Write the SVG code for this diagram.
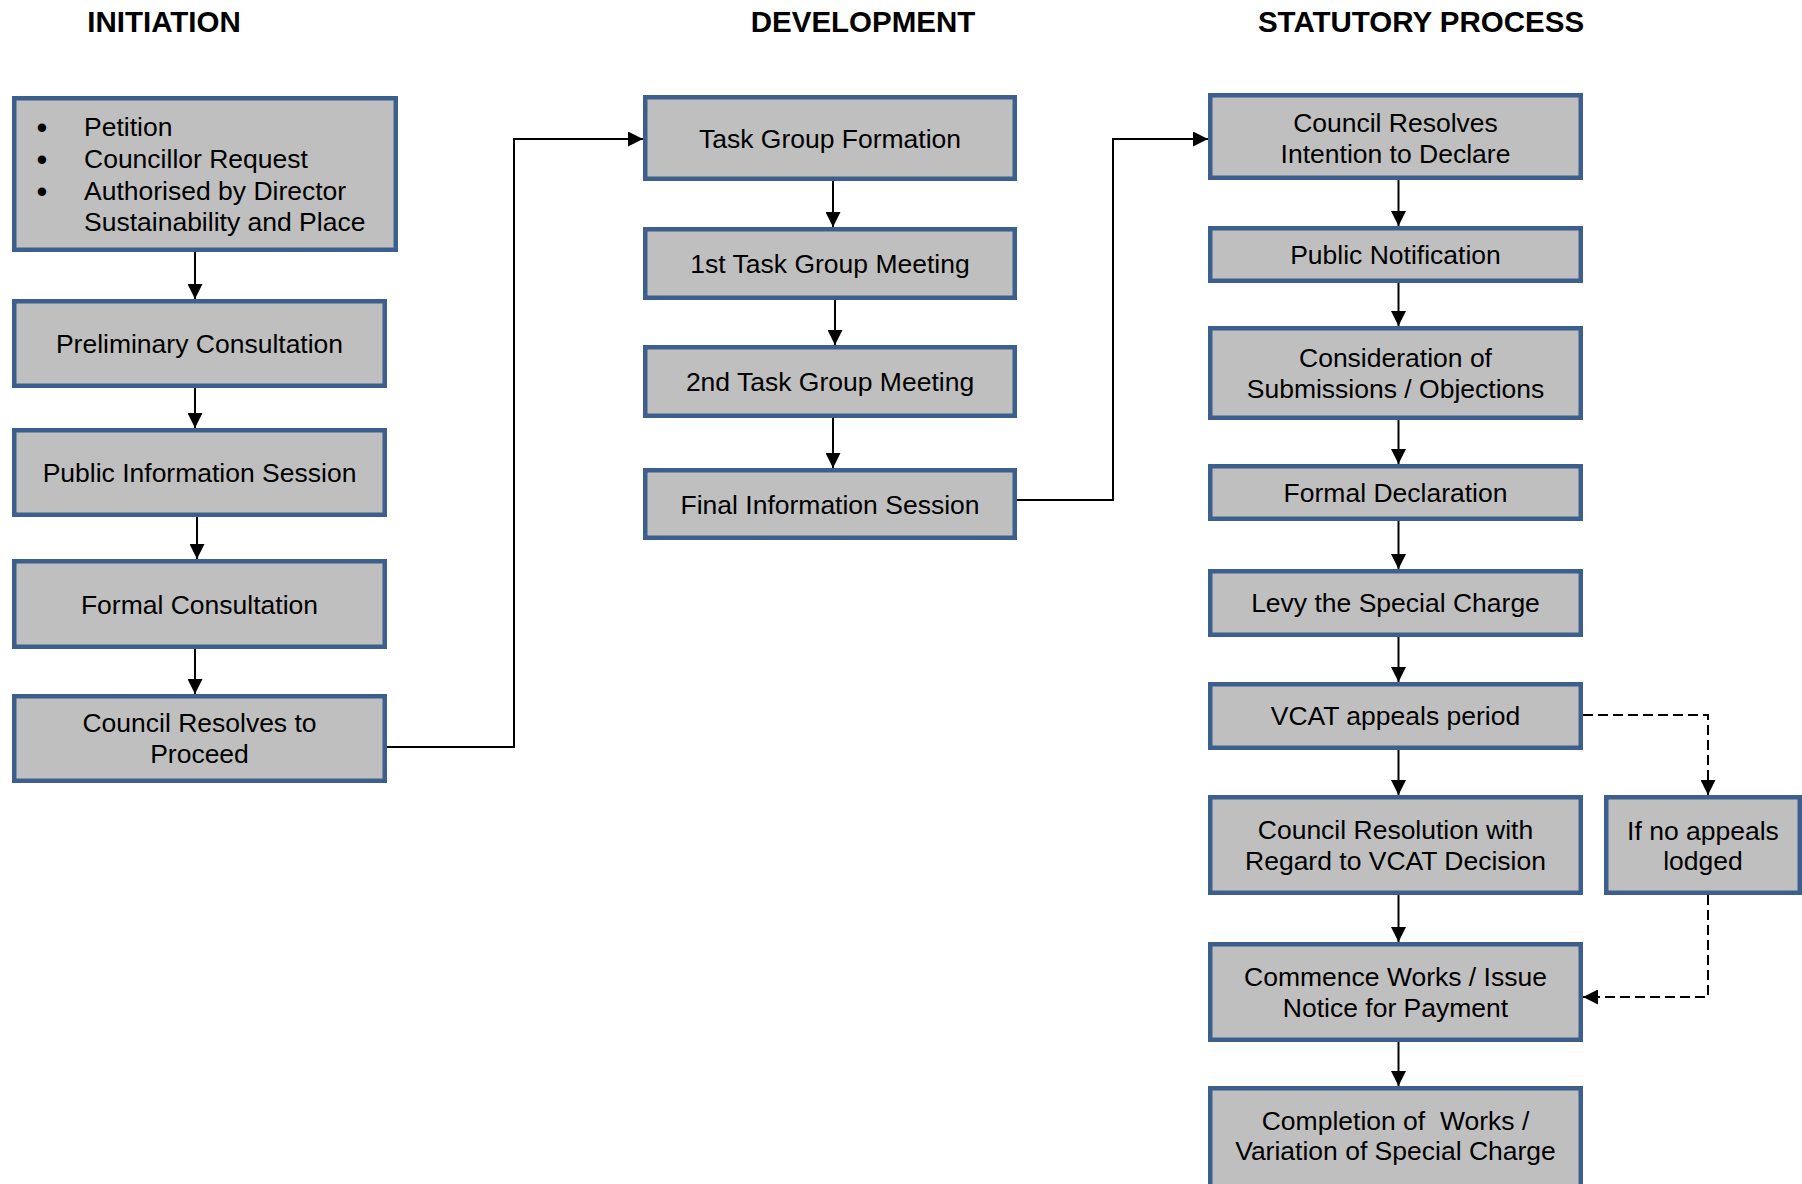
<svg xmlns="http://www.w3.org/2000/svg" width="1802" height="1184" viewBox="0 0 1802 1184">
<style>
.box{fill:#BFBFBF;stroke:#3C5F8D;stroke-width:4.5}
.t{font-family:"Liberation Sans",Arial,sans-serif;font-size:26.5px;fill:#000;text-anchor:middle}
.tl{font-family:"Liberation Sans",Arial,sans-serif;font-size:26.5px;fill:#000}
.b{font-size:31px}
.h{font-family:"Liberation Sans",Arial,sans-serif;font-size:29.5px;font-weight:bold;fill:#000;text-anchor:middle}
.c{fill:none;stroke:#000;stroke-width:2;marker-end:url(#arr)}
.d{fill:none;stroke:#000;stroke-width:2;stroke-dasharray:10 5;marker-end:url(#arr)}
</style>
<defs>
<marker id="arr" markerUnits="userSpaceOnUse" markerWidth="15" markerHeight="15" refX="15" refY="7.5" orient="auto">
<path d="M0,0 L15,7.5 L0,15 z" fill="#000"/>
</marker>
</defs>
<rect width="1802" height="1184" fill="#fff"/>
<g id="headers">
<text class="h" x="164" y="32">INITIATION</text>
<text class="h" x="863" y="32">DEVELOPMENT</text>
<text class="h" x="1421" y="32">STATUTORY PROCESS</text>
</g>
<g id="connectors">
<line class="c" x1="195" y1="252" x2="195" y2="299"/>
<line class="c" x1="195" y1="388" x2="195" y2="428"/>
<line class="c" x1="197" y1="517" x2="197" y2="559"/>
<line class="c" x1="195" y1="649" x2="195" y2="694"/>
<polyline class="c" points="387,747 514,747 514,139 643,139"/>
<line class="c" x1="833" y1="181" x2="833" y2="227"/>
<line class="c" x1="835" y1="300" x2="835" y2="345"/>
<line class="c" x1="833" y1="418" x2="833" y2="468"/>
<polyline class="c" points="1017,500 1113,500 1113,139 1208,139"/>
<line class="c" x1="1398.5" y1="180" x2="1398.5" y2="226"/>
<line class="c" x1="1398.5" y1="283" x2="1398.5" y2="326"/>
<line class="c" x1="1398.5" y1="420" x2="1398.5" y2="464"/>
<line class="c" x1="1398.5" y1="521" x2="1398.5" y2="569"/>
<line class="c" x1="1398.5" y1="637" x2="1398.5" y2="682"/>
<line class="c" x1="1398.5" y1="750" x2="1398.5" y2="795"/>
<line class="c" x1="1398.5" y1="895" x2="1398.5" y2="942"/>
<line class="c" x1="1398.5" y1="1042" x2="1398.5" y2="1086"/>
<polyline class="d" points="1583,715 1708,715 1708,795"/>
<polyline class="d" points="1708,895 1708,997 1583,997"/>
</g>
<g id="n-start">
<rect class="box" x="14.25" y="98.25" width="381.5" height="151.5"/>
<text class="tl"><tspan class="b" x="36.5" y="137.5">•</tspan><tspan x="84" y="136">Petition</tspan></text>
<text class="tl"><tspan class="b" x="36.5" y="169.5">•</tspan><tspan x="84" y="168">Councillor Request</tspan></text>
<text class="tl"><tspan class="b" x="36.5" y="201.5">•</tspan><tspan x="84" y="200">Authorised by Director</tspan></text>
<text class="tl" x="84" y="231">Sustainability and Place</text>
</g>
<g id="n-prelim">
<rect class="box" x="14.25" y="301.25" width="370.5" height="84.5"/>
<text class="t" x="199.5" y="353">Preliminary Consultation</text>
</g>
<g id="n-pubinfo">
<rect class="box" x="14.25" y="430.25" width="370.5" height="84.5"/>
<text class="t" x="199.5" y="482">Public Information Session</text>
</g>
<g id="n-formal">
<rect class="box" x="14.25" y="561.25" width="370.5" height="85.5"/>
<text class="t" x="199.5" y="613.5">Formal Consultation</text>
</g>
<g id="n-proceed">
<rect class="box" x="14.25" y="696.25" width="370.5" height="84.5"/>
<text class="t" x="199.5" y="732">Council Resolves to</text>
<text class="t" x="199.5" y="763">Proceed</text>
</g>
<g id="n-taskgroup">
<rect class="box" x="645.25" y="97.25" width="369.5" height="81.5"/>
<text class="t" x="830" y="147.5">Task Group Formation</text>
</g>
<g id="n-meet1">
<rect class="box" x="645.25" y="229.25" width="369.5" height="68.5"/>
<text class="t" x="830" y="273">1st Task Group Meeting</text>
</g>
<g id="n-meet2">
<rect class="box" x="645.25" y="347.25" width="369.5" height="68.5"/>
<text class="t" x="830" y="391">2nd Task Group Meeting</text>
</g>
<g id="n-final">
<rect class="box" x="645.25" y="470.25" width="369.5" height="67.5"/>
<text class="t" x="830" y="513.5">Final Information Session</text>
</g>
<g id="n-intention">
<rect class="box" x="1210.25" y="95.25" width="370.5" height="82.5"/>
<text class="t" x="1395.5" y="132">Council Resolves</text>
<text class="t" x="1395.5" y="162.5">Intention to Declare</text>
</g>
<g id="n-notify">
<rect class="box" x="1210.25" y="228.25" width="370.5" height="52.5"/>
<text class="t" x="1395.5" y="264">Public Notification</text>
</g>
<g id="n-consider">
<rect class="box" x="1210.25" y="328.25" width="370.5" height="89.5"/>
<text class="t" x="1395.5" y="367">Consideration of</text>
<text class="t" x="1395.5" y="397.5">Submissions / Objections</text>
</g>
<g id="n-declare">
<rect class="box" x="1210.25" y="466.25" width="370.5" height="52.5"/>
<text class="t" x="1395.5" y="502">Formal Declaration</text>
</g>
<g id="n-levy">
<rect class="box" x="1210.25" y="571.25" width="370.5" height="63.5"/>
<text class="t" x="1395.5" y="612">Levy the Special Charge</text>
</g>
<g id="n-vcat">
<rect class="box" x="1210.25" y="684.25" width="370.5" height="63.5"/>
<text class="t" x="1395.5" y="724.5">VCAT appeals period</text>
</g>
<g id="n-resolution">
<rect class="box" x="1210.25" y="797.25" width="370.5" height="95.5"/>
<text class="t" x="1395.5" y="839">Council Resolution with</text>
<text class="t" x="1395.5" y="869.5">Regard to VCAT Decision</text>
</g>
<g id="n-noappeal">
<rect class="box" x="1606.25" y="797.25" width="193.5" height="95.5"/>
<text class="t" x="1703" y="839.5">If no appeals</text>
<text class="t" x="1703" y="869.5">lodged</text>
</g>
<g id="n-commence">
<rect class="box" x="1210.25" y="944.25" width="370.5" height="95.5"/>
<text class="t" x="1395.5" y="986">Commence Works / Issue</text>
<text class="t" x="1395.5" y="1016.5">Notice for Payment</text>
</g>
<g id="n-completion">
<rect class="box" x="1210.25" y="1088.25" width="370.5" height="120"/>
<text class="t" x="1395.5" y="1130" xml:space="preserve">Completion of  Works /</text>
<text class="t" x="1395.5" y="1160">Variation of Special Charge</text>
</g>
</svg>
